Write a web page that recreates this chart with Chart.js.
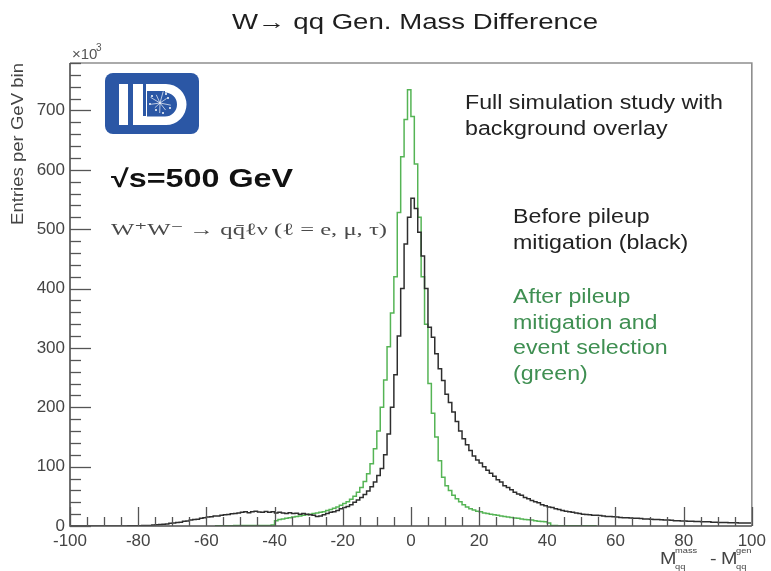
<!DOCTYPE html>
<html><head><meta charset="utf-8">
<script src="https://cdn.jsdelivr.net/npm/chart.js@4.4.1/dist/chart.umd.min.js"></script>
<style>html,body{margin:0;padding:0;background:#fff}canvas{display:block}</style>
</head><body>
<canvas id="c" width="771" height="571"></canvas>
<script>
// ---- data (thousands of entries per GeV bin, 1 GeV bins from -100 to 100) ----
const binLow = -100;
const binWidth = 1;
const xTicks = [-100, -80, -60, -40, -20, 0, 20, 40, 60, 80, 100];
const yTicks = [0, 100, 200, 300, 400, 500, 600, 700];
const yMax = 780;
const xMinorStep = 5;
const yMinorStep = 20;

// Before pileup mitigation (black)
const beforeMitigation = [
  0,0,0,0,0,0,0,0,0,0,
  0,0,0,0,0,0,0,0.5,0.5,0.5,
  0.5,1,1,1,1.5,2,2.5,3,3.5,4.5,
  5,6,6.5,8,8.5,10,11,11.5,13,14,
  15,15.5,17,17,18,19,19.5,20.5,21,22,
  23,24,22.5,24,25,23.5,23,24.5,23,24,
  22,23,22,21,22.5,21,21.5,20,21,20,
  19,18,16,17,19,21,23,24,26,29,
  31,33,36,40,44,48,53,59,66,74,
  85,97,120,155,200,255,320,400,475,520,
  552,535,495,455,400,335,318,290,265,245,
  222,208,192,176,160,147,137,127,118,111,
  106,100,94,89,84,78,74,68,65,61,
  57,54,52,48,46,43,41,39,36,34,
  32,31,29,28,26,25,24,23,22,21,
  20,19.5,19,18,18,17.5,17,16,16,15.5,
  15,14.5,14,14,13.5,13,13,12.5,12,12,
  11.5,11,11,10.5,10,10,9.5,9,9,8.5,
  8.5,8,8,7.5,7.5,7,7,7,6.5,6.5,
  6,6,6,5.5,5.5,5.5,5,5,5,5
];

// After pileup mitigation and event selection (green)
const afterMitigation = [
  null,null,null,null,null,null,null,null,null,null,
  null,null,null,null,null,null,null,null,null,null,
  null,null,null,null,null,null,null,null,null,null,
  null,null,null,null,null,null,null,null,null,null,
  null,null,0.5,0.5,0.5,0.5,0.5,0.5,1,1,
  1,1,1,1,1,1,1,1,1,1.5,
  9,11,12,13,14,15,16,17,18,19,
  20,21,22,23,24,26,28,30,32,35,
  38,41,45,50,57,65,75,88,105,130,
  160,200,246,302,359,420,528,622,685,735,
  690,610,520,420,340,240,190,150,110,82,
  68,60,52,46,41,36,32,29,27,25,
  24,22,21,20,19,18,17,16,15,14.5,
  13.5,13,12,11,10.5,10,9,8,7.5,7,
  5,1,1,0.5,0.5,0.5,0.5,0.5,0.5,0.5,
  0.5,0.5,0.5,0.5,0.5,null,null,null,null,null,
  null,null,null,null,null,null,null,null,null,null,
  null,null,null,null,null,null,null,null,null,null,
  null,null,null,null,null,null,null,null,null,null,
  null,null,null,null,null,null,null,null,null,null
];

// histogram -> step points at bin centres (steps fall on bin edges)
function histPoints(vals) {
  const pts = [];
  let first = vals.findIndex(v => v !== null);
  vals.forEach((v, i) => {
    const lo = binLow + i * binWidth;
    if (i === 0 && v !== null) pts.push({x: lo, y: v});
    pts.push({x: lo + binWidth / 2, y: v});
    if (i === vals.length - 1 && v !== null) pts.push({x: lo + binWidth, y: v});
  });
  return pts;
}

const SANS = '"Liberation Sans", Arial, sans-serif';
const SERIF = '"Liberation Serif", "DejaVu Serif", serif';
const SX = 1.16; // horizontal stretch of the reference's text

function txt(c, s, x, y, font, color, sx, align) {
  c.save();
  c.font = font; c.fillStyle = color; c.textBaseline = 'middle';
  c.textAlign = align || 'left';
  c.translate(x, y); c.scale(sx, 1);
  c.fillText(s, 0, 0);
  c.restore();
}
function txtW(c, s, x, y, font, color, width, align) {
  c.save(); c.font = font; const w = c.measureText(s).width; c.restore();
  txt(c, s, x, y, font, color, width / w, align);
}

function drawLogo(c) {
  c.save();
  const x0 = 105, y0 = 73, w = 94, h = 61, r = 8;
  c.fillStyle = '#2b57a5';
  c.beginPath();
  c.roundRect(x0, y0, w, h, r);
  c.fill();
  c.fillStyle = '#ffffff';
  c.fillRect(119, 84, 9, 41);           // I
  c.fillRect(133, 84, 10, 41);          // L stem
  c.beginPath();                         // D outer
  c.moveTo(146, 84); c.lineTo(166, 84);
  c.arc(166, 104.5, 20.5, -Math.PI / 2, Math.PI / 2);
  c.lineTo(133, 125); c.lineTo(133, 116); c.lineTo(146, 116);
  c.closePath(); c.fill();
  c.fillStyle = '#2b57a5';               // D inner
  c.beginPath();
  c.moveTo(147, 91); c.lineTo(165, 91);
  c.arc(165, 104.5, 12, -Math.PI / 2, Math.PI / 2);
  c.lineTo(147, 116.5); c.closePath(); c.fill();
  c.strokeStyle = 'rgba(255,255,255,0.85)'; c.lineWidth = 0.8;
  const rays = [[-2.6,11],[-2.0,9],[-1.3,12],[-0.6,8],[0.2,11],[0.9,9],[1.6,10],[2.4,7],[3.0,9]];
  rays.forEach(([a, l]) => {
    c.beginPath(); c.moveTo(160, 103);
    c.lineTo(160 + l * Math.cos(a), 103 + l * Math.sin(a)); c.stroke();
  });
  c.fillStyle = '#ffffff';
  [[152,96],[156,110],[168,98],[170,108],[163,113],[150,104],[166,94]].forEach(([px,py]) => {
    c.beginPath(); c.arc(px, py, 1, 0, Math.PI * 2); c.fill();
  });
  c.restore();
}

const rootLook = {
  id: 'rootLook',
  beforeDraw(chart) {
    const c = chart.ctx;
    c.save(); c.fillStyle = '#fff'; c.fillRect(0, 0, chart.width, chart.height); c.restore();
  },
  afterDatasetsDraw(chart) {
    const c = chart.ctx, a = chart.chartArea, xs = chart.scales.x, ys = chart.scales.y;
    c.save();
    c.strokeStyle = '#8e8e8e'; c.lineWidth = 1.6;
    c.beginPath(); c.moveTo(a.left, a.top); c.lineTo(a.right, a.top); c.lineTo(a.right, a.bottom); c.stroke();
    c.strokeStyle = '#4d4d4d'; c.lineWidth = 1.6;
    c.beginPath(); c.moveTo(a.left, a.top); c.lineTo(a.left, a.bottom); c.lineTo(a.right, a.bottom); c.stroke();
    c.strokeStyle = '#555'; c.lineWidth = 1.3;
    for (let v = ys.min; v <= ys.max + 1e-6; v += yMinorStep) {
      const p = Math.round(ys.getPixelForValue(v)) + 0.5;
      const len = yTicks.includes(v) ? 21 : 11;
      c.beginPath(); c.moveTo(a.left, p); c.lineTo(a.left + len, p); c.stroke();
    }
    for (let v = xs.min; v <= xs.max + 1e-6; v += xMinorStep) {
      const p = Math.round(xs.getPixelForValue(v)) + 0.5;
      const len = xTicks.includes(v) ? 19 : 9;
      c.beginPath(); c.moveTo(p, a.bottom); c.lineTo(p, a.bottom - len); c.stroke();
    }
    c.restore();
  },
  afterDraw(chart) {
    const c = chart.ctx, a = chart.chartArea;
    // title
    txtW(c, 'W\u2192 qq Gen. Mass Difference', 415, 23, '22px ' + SANS, '#1e1e1e', 366, 'center');
    // exponent label
    txt(c, '\u00d710', 72, 55, '15px ' + SANS, '#555', 1.0);
    txt(c, '3', 96, 48, '10px ' + SANS, '#555', 1.0);
    // y axis title (rotated)
    c.save();
    c.translate(19, a.top); c.rotate(-Math.PI / 2);
    txt(c, 'Entries per GeV bin', 0, 0, '16px ' + SANS, '#444', SX, 'right');
    c.restore();
    // x axis title  M_qq^mass - M_qq^gen
    txt(c, 'M', 660, 559, '17px ' + SANS, '#444', SX);
    txt(c, 'mass', 675, 551, '8px ' + SANS, '#444', SX);
    txt(c, 'qq', 675, 567, '8px ' + SANS, '#444', SX);
    txt(c, '-', 710, 559, '17px ' + SANS, '#444', SX);
    txt(c, 'M', 721, 559, '17px ' + SANS, '#444', SX);
    txt(c, 'gen', 736, 551, '8px ' + SANS, '#444', SX);
    txt(c, 'qq', 736, 567, '8px ' + SANS, '#444', SX);
    // logo & labels
    drawLogo(c);
    txtW(c, '\u221As=500 GeV', 111, 180, 'bold 25px ' + SANS, '#111', 182);
    txtW(c, 'W\u207AW\u207B \u2192 qq\u0304\u2113\u03BD (\u2113 = e, \u03BC, \u03C4)', 111, 231, '17px ' + SERIF, '#4a4a4a', 276);
    const dark = '#222', green = '#3f8f52', f = '20px ' + SANS;
    txt(c, 'Full simulation study with', 465, 103, f, dark, SX);
    txt(c, 'background overlay', 465, 129, f, dark, SX);
    txt(c, 'Before pileup', 513, 217, f, dark, SX);
    txt(c, 'mitigation (black)', 513, 243, f, dark, SX);
    txt(c, 'After pileup', 513, 297, f, green, SX);
    txt(c, 'mitigation and', 513, 323, f, green, SX);
    txt(c, 'event selection', 513, 348, f, green, SX);
    txt(c, '(green)', 513, 374, f, green, SX);
  }
};

new Chart(document.getElementById('c'), {
  type: 'line',
  data: {
    datasets: [
      { label: 'Before pileup mitigation', data: histPoints(beforeMitigation),
        borderColor: '#2e2e2e', borderWidth: 1.5, pointRadius: 0, stepped: 'middle',
        fill: false, tension: 0, order: 0, spanGaps: false },
      { label: 'After pileup mitigation and event selection', data: histPoints(afterMitigation),
        borderColor: '#55b455', borderWidth: 1.5, pointRadius: 0, stepped: 'middle',
        fill: false, tension: 0, order: 1, spanGaps: false }
    ]
  },
  options: {
    responsive: false, animation: false, devicePixelRatio: 1,
    layout: { padding: { left: 0, right: 15, top: 63, bottom: 0 } },
    plugins: { legend: { display: false }, tooltip: { enabled: false }, title: { display: false } },
    scales: {
      x: {
        type: 'linear', min: xTicks[0], max: xTicks[xTicks.length - 1],
        afterBuildTicks: s => { s.ticks = xTicks.map(v => ({ value: v })); },
        afterFit: s => { s.height = 45; },
        grid: { display: false, drawTicks: false }, border: { display: false },
        ticks: { font: { family: SANS, size: 17 }, color: '#444', padding: 5,
                 maxRotation: 0, autoSkip: false, callback: v => String(v) }
      },
      y: {
        type: 'linear', min: 0, max: yMax,
        afterBuildTicks: s => { s.ticks = yTicks.map(v => ({ value: v })); },
        afterFit: s => { s.width = 70; },
        grid: { display: false, drawTicks: false }, border: { display: false },
        ticks: { font: { family: SANS, size: 17 }, color: '#444', padding: 5,
                 autoSkip: false, callback: v => String(v) }
      }
    }
  },
  plugins: [rootLook]
});
</script>
</body></html>
